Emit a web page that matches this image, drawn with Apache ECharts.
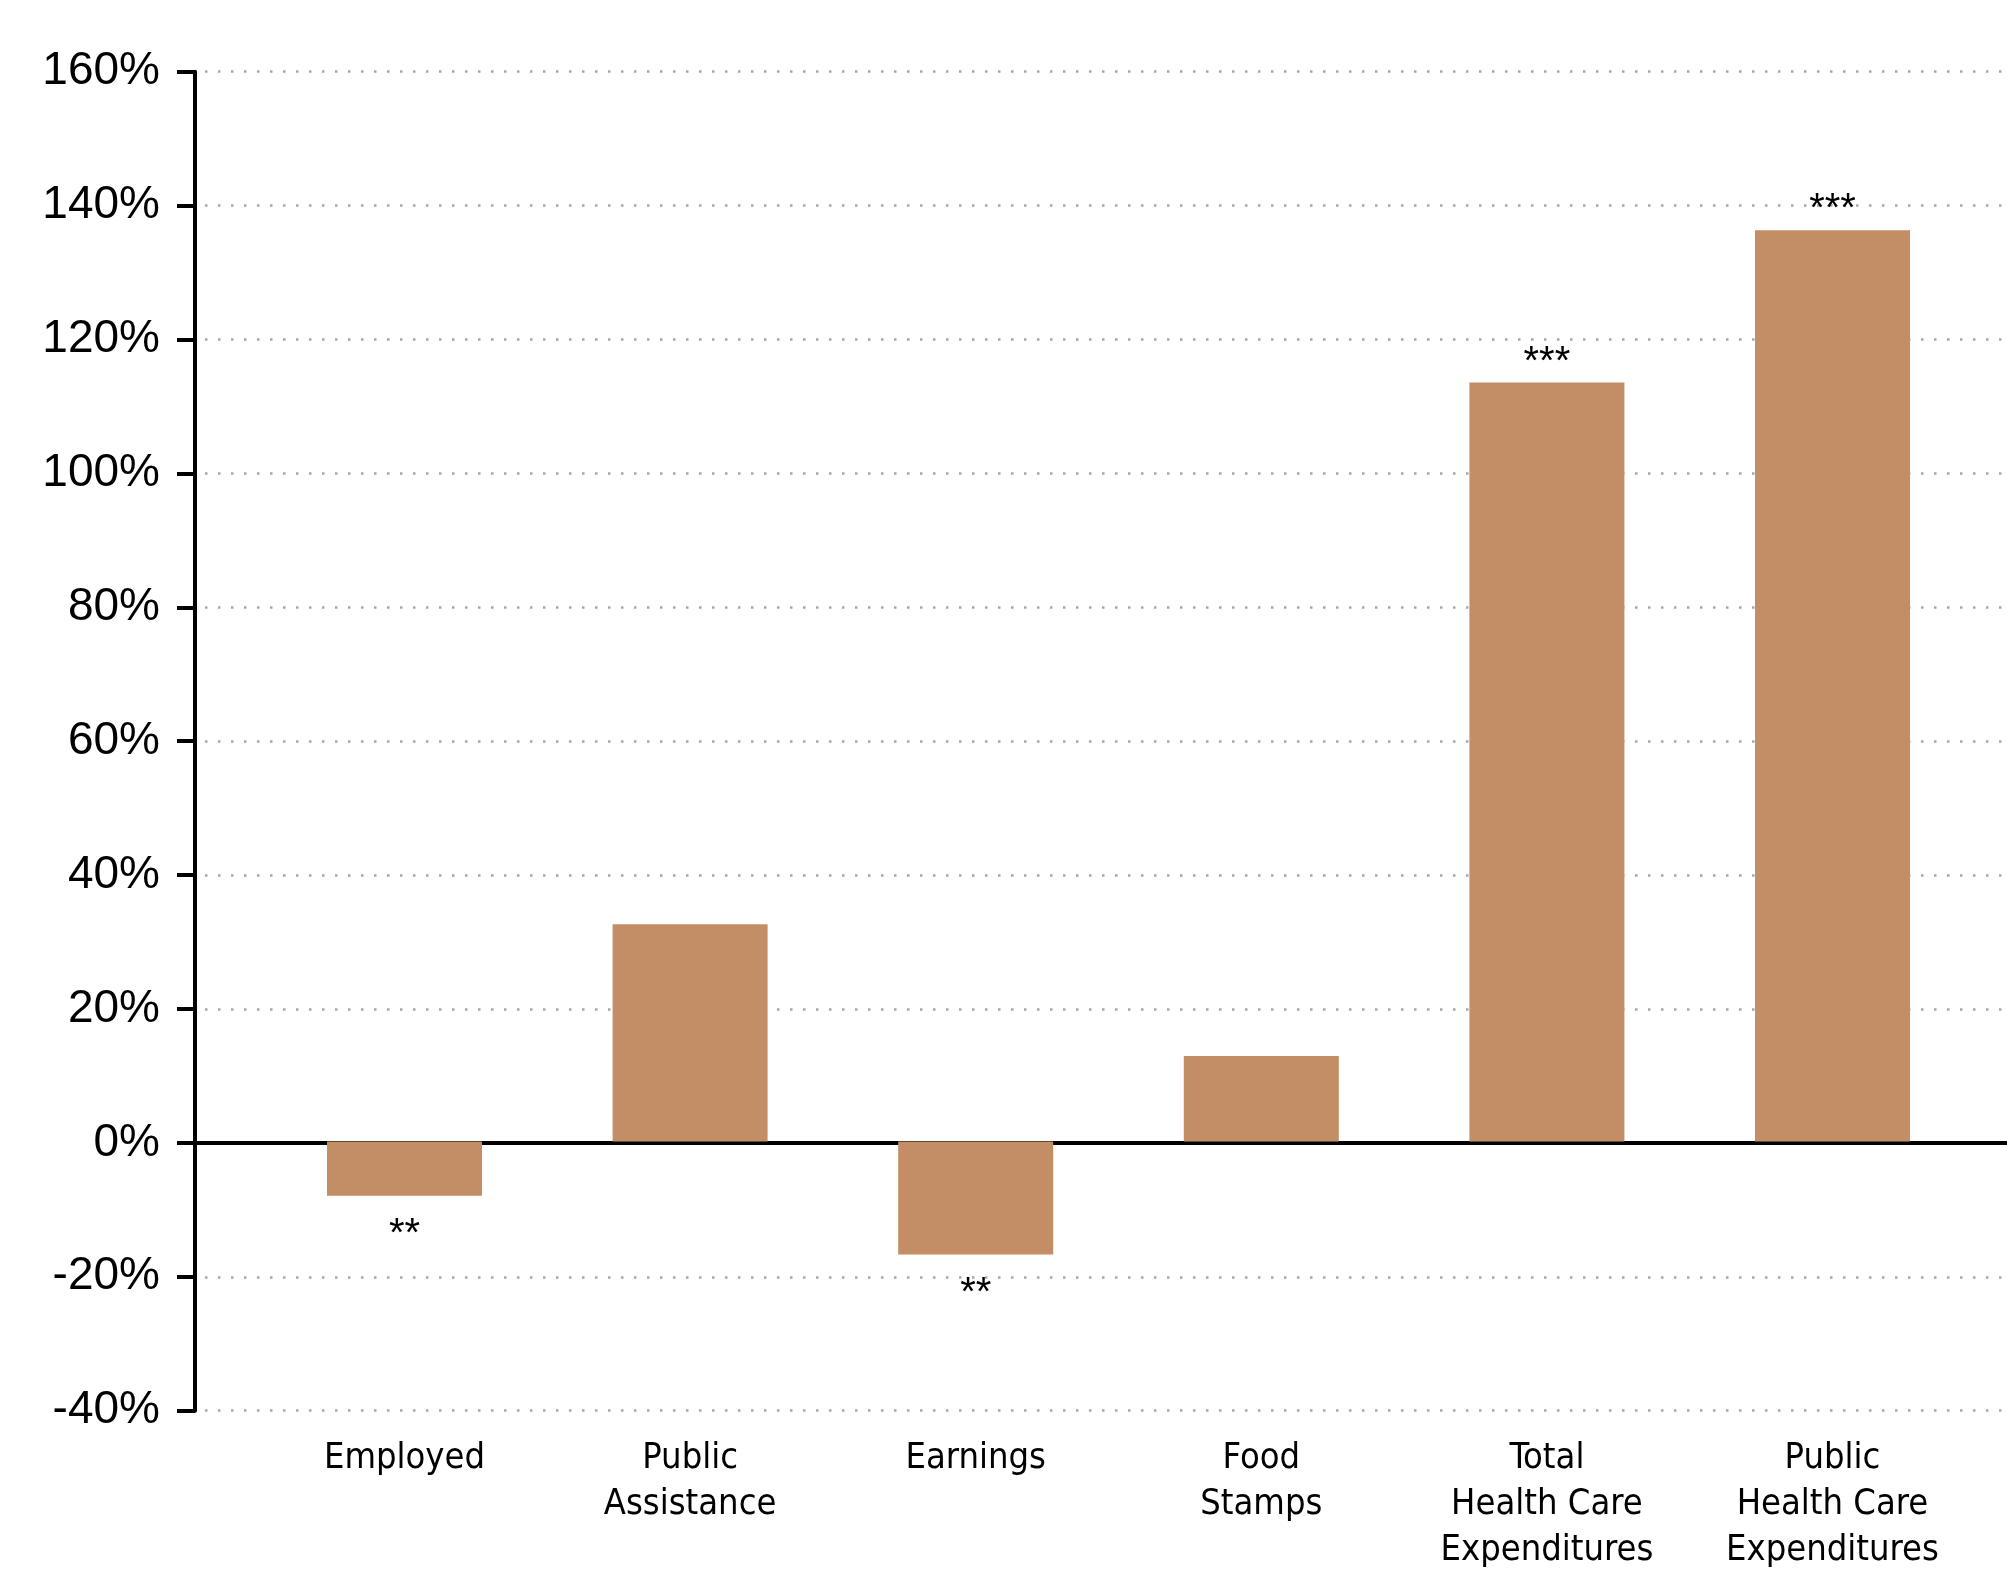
<!DOCTYPE html>
<html>
<head>
<meta charset="utf-8">
<script src="https://cdn.jsdelivr.net/npm/echarts@6/dist/echarts.min.js"></script>
<style>
  html, body { margin: 0; padding: 0; background: #fff; }
  #chart { width: 2007px; height: 1574px; }
</style>
</head>
<body>
<div id="chart"></div>
<script>
const categories = ['Employed', 'Public\nAssistance', 'Earnings', 'Food\nStamps', 'Total\nHealth Care\nExpenditures', 'Public\nHealth Care\nExpenditures']
const changes = [-8.1, 32.5, -16.9, 12.8, 113.5, 136.3]
const stars = ['**', '', '**', '', '***', '***']
const yTicks = { min: -40, max: 160, step: 20 }

const barColor = '#c38e66'
const narrowFont = "'Liberation Sans Narrow', 'DejaVu Sans Condensed', Roboto, sans-serif"

const barData = changes.map((v, i) => {
  return {
    value: v,
    label: {
      show: stars[i] !== '',
      position: v < 0 ? 'bottom' : 'top',
      distance: v < 0 ? 19 : 0,
      formatter: stars[i],
      fontFamily: 'Liberation Sans',
      fontSize: 40,
      color: '#000'
    }
  }
})

const chart = echarts.init(document.getElementById('chart'))
const option = {
  animation: false,
  backgroundColor: '#fff',
  grid: [
    // grid 0: y axis, dotted lines, zero line (full width)
    { left: 195, right: 0, top: 71.7, bottom: 163.3 },
    // grid 1: bars and category labels
    { left: 261.7, right: 31.7, top: 71.7, bottom: 163.3 }
  ],
  xAxis: [
    {
      gridIndex: 0,
      type: 'value',
      min: 0,
      max: 1,
      axisLine: { show: true, onZero: true, lineStyle: { color: '#000', width: 4 } },
      axisTick: { show: false },
      axisLabel: { show: false },
      splitLine: { show: false }
    },
    {
      gridIndex: 1,
      type: 'category',
      data: categories,
      axisLine: { show: false },
      axisTick: { show: false },
      axisLabel: {
        interval: 0,
        margin: 27,
        fontFamily: narrowFont,
        fontSize: 36,
        lineHeight: 46,
        color: '#000'
      }
    }
  ],
  yAxis: [
    {
      gridIndex: 0,
      type: 'value',
      min: yTicks.min,
      max: yTicks.max,
      interval: yTicks.step,
      axisLine: { show: true, lineStyle: { color: '#000', width: 4 } },
      axisTick: { show: true, length: 18, lineStyle: { color: '#000', width: 4 } },
      axisLabel: {
        formatter: '{value}%',
        margin: 35,
        fontFamily: 'Liberation Sans',
        fontSize: 46,
        color: '#000'
      },
      splitLine: {
        show: true,
        lineStyle: { color: '#a3a9ad', width: 2.5, type: [2.5, 10.5], dashOffset: -10 }
      }
    },
    {
      gridIndex: 1,
      type: 'value',
      min: yTicks.min,
      max: yTicks.max,
      interval: yTicks.step,
      show: false,
      splitLine: { show: false }
    }
  ],
  series: [
    {
      type: 'bar',
      xAxisIndex: 1,
      yAxisIndex: 1,
      barWidth: 155,
      itemStyle: { color: barColor },
      data: barData
    }
  ]
}
chart.setOption(option)
window.addEventListener('resize', () => {
  chart.resize()
})
</script>
</body>
</html>
